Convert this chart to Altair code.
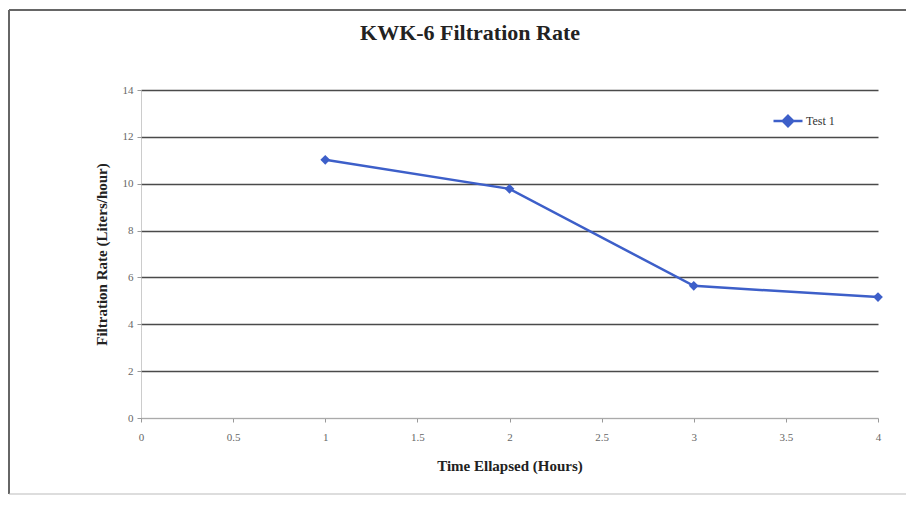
import altair as alt
import pandas as pd

# Data
time_hours = [1, 2, 3, 4]
rate_lph = [11.02, 9.78, 5.64, 5.16]
series = ["Test 1", "Test 1", "Test 1", "Test 1"]

x_ticks = [0, 0.5, 1, 1.5, 2, 2.5, 3, 3.5, 4]
y_ticks = [0, 2, 4, 6, 8, 10, 12, 14]
chart_title = "KWK-6 Filtration Rate"

df = pd.DataFrame({"time": time_hours, "rate": rate_lph, "series": series})

FONT = "Liberation Serif"
BLUE = "#3d5fc9"

legend_path = "M-1,0L1,0M0,-0.36L0.36,0L0,0.36L-0.36,0Z"

line = alt.Chart(df).mark_line(
    color=BLUE, strokeWidth=2.5,
    point=alt.OverlayMarkDef(shape="diamond", size=95, filled=True, color=BLUE, opacity=1),
).encode(
    x=alt.X("time:Q", title="Time Ellapsed (Hours)",
            scale=alt.Scale(domain=[0, 4], nice=False),
            axis=alt.Axis(values=x_ticks, format="~g", grid=False, labelFlush=False,
                          labelPadding=9, tickSize=4, tickColor="#999",
                          domainColor="#aaa", domainWidth=1,
                          titlePadding=16)),
    y=alt.Y("rate:Q", title="Filtration Rate (Liters/hour)",
            scale=alt.Scale(domain=[0, 14], nice=False),
            axis=alt.Axis(values=y_ticks, grid=True,
                          gridColor={"condition": {"test": "datum.value === 0", "value": "#c8c8c8"},
                                     "value": "#4a4a4a"},
                          gridWidth=1.6, labelPadding=4, tickSize=4, tickColor="#999",
                          domainColor="#999", domainDash=[1, 1], domainWidth=1,
                          titlePadding=13)),
    color=alt.Color("series:N", scale=alt.Scale(range=[BLUE]),
                    legend=alt.Legend(title=None, orient="none", legendX=631, legendY=15,
                                      symbolType=legend_path, symbolSize=841,
                                      symbolStrokeWidth=2.5, symbolFillColor=BLUE,
                                      symbolStrokeColor=BLUE, labelOffset=2,
                                      labelFont=FONT, labelFontSize=12,
                                      labelColor="#333", padding=0)),
)

frame_df = pd.DataFrame({"k": [0]})
left_border = alt.Chart(frame_df).mark_rule(color="#666", strokeWidth=2).encode(
    x=alt.value(-132), y=alt.value(-80), y2=alt.value(404))
top_border = alt.Chart(frame_df).mark_rule(color="#666", strokeWidth=2).encode(
    x=alt.value(-132), x2=alt.value(770), y=alt.value(-80))
bottom_border = alt.Chart(frame_df).mark_rule(color="#bbb", strokeWidth=1).encode(
    x=alt.value(-132), x2=alt.value(770), y=alt.value(404))

title_df = pd.DataFrame({"t": [chart_title]})
title_mark = alt.Chart(title_df).mark_text(
    font=FONT, fontSize=22, fontWeight="bold", color="#222",
    align="center", baseline="alphabetic",
).encode(text="t:N", x=alt.value(329), y=alt.value(-50))

chart = alt.layer(line, left_border, top_border, bottom_border, title_mark).properties(
    width=737, height=328,
    autosize=alt.AutoSizeParams(type="none"),
    padding={"left": 133, "top": 82, "right": 28, "bottom": 78},
).configure_view(stroke=None).configure_axis(
    labelFont=FONT, labelFontSize=11, labelColor="#666",
    titleFont=FONT, titleFontSize=15, titleFontWeight="bold", titleColor="#222",
)

chart.save("out.html", embed_options={"renderer": "svg", "actions": False})
